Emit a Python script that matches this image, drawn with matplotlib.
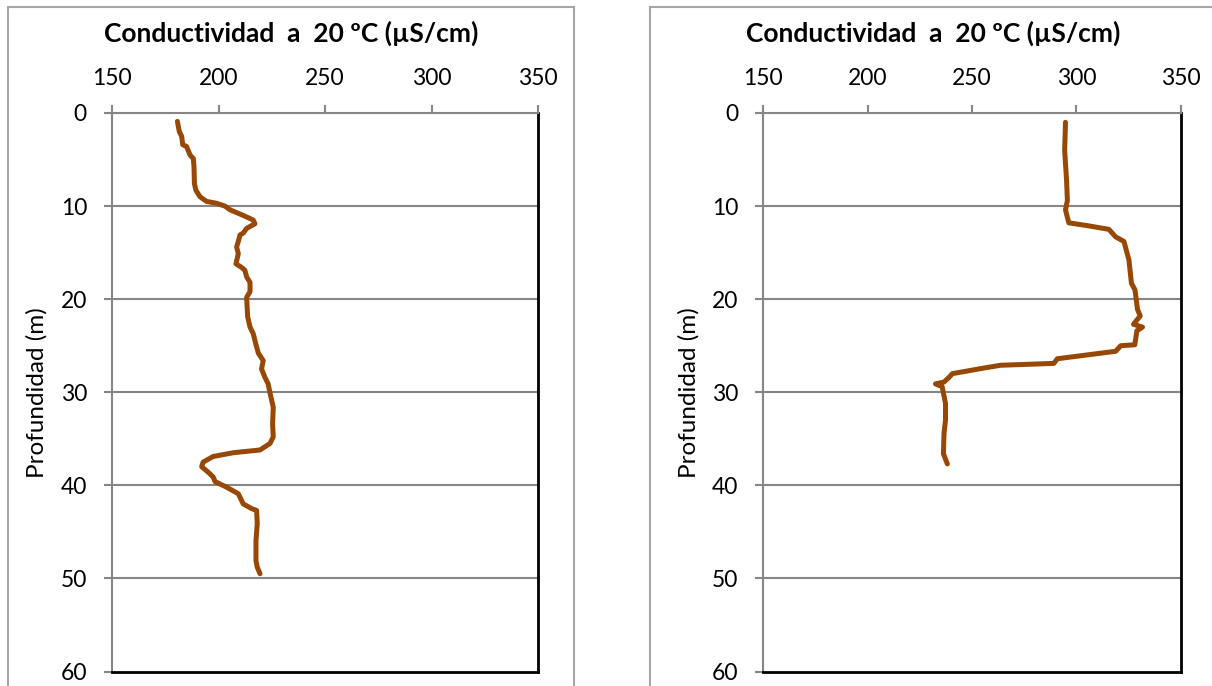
import matplotlib
matplotlib.use("Agg")
import matplotlib.pyplot as plt
from matplotlib.patches import Rectangle

plt.rcParams['font.family'] = ['Lato', 'DejaVu Sans']

# Perfil 1: conductividad (uS/cm) frente a profundidad (m)
prof_1 = [0.9, 2.0, 2.5, 3.4, 3.6, 4.5, 4.9, 5.8, 7.6, 8.3, 9.0, 9.5, 9.7, 10.0,
          10.4, 11.0, 11.5, 11.9, 12.4, 12.9, 13.1, 13.8, 14.4, 15.1, 16.2, 16.6,
          16.9, 17.6, 18.2, 19.2, 19.8, 21.9, 23.0, 23.7, 24.8, 25.8, 26.6, 27.5,
          28.4, 29.1, 30.1, 31.6, 33.4, 34.8, 35.5, 36.2, 36.5, 36.9, 37.5, 38.0,
          38.6, 39.1, 39.6, 40.2, 40.9, 42.0, 42.5, 42.7, 44.1, 45.9, 48.1, 48.8, 49.5]
cond_1 = [180.7, 181.6, 182.7, 183.2, 185.0, 186.6, 188.2, 188.5, 188.7, 189.4, 191.3,
          194.4, 199.1, 203.0, 205.4, 211.6, 216.3, 217.1, 213.2, 211.6, 210.1, 209.3,
          208.5, 209.3, 208.2, 210.9, 212.4, 213.2, 214.8, 214.8, 213.2, 213.7, 214.8,
          216.3, 217.5, 218.7, 221.0, 220.2, 221.8, 223.3, 224.2, 225.7, 225.4, 225.7,
          224.2, 219.5, 206.9, 197.5, 192.8, 192.1, 195.2, 197.5, 198.4, 203.8, 209.3,
          211.6, 215.6, 217.9, 218.2, 217.6, 217.6, 218.2, 219.5]

# Perfil 2
prof_2 = [1.0, 4.0, 7.2, 9.4, 10.4, 11.3, 11.8, 12.1, 12.5, 13.3, 13.8, 15.8, 18.3,
          19.0, 21.1, 21.8, 22.7, 23.0, 23.4, 24.9, 25.0, 25.6, 26.4, 26.9, 27.1,
          27.4, 28.0, 28.4, 28.9, 29.1, 29.4, 31.2, 33.0, 34.4, 36.6, 37.7]
cond_2 = [294.8, 294.4, 295.3, 295.7, 294.8, 295.8, 296.4, 305.2, 315.6, 318.8, 322.8,
          325.2, 326.4, 328.1, 329.3, 330.6, 327.4, 331.7, 329.0, 328.0, 321.3, 318.8,
          290.9, 289.2, 263.7, 255.7, 240.6, 239.0, 236.6, 232.5, 235.7, 237.3, 237.3,
          236.6, 236.3, 238.2]

x_ticks = [150, 200, 250, 300, 350]
y_ticks = [0, 10, 20, 30, 40, 50, 60]
titulo = 'Conductividad  a  20 ºC (µS/cm)'
etiqueta_y = 'Profundidad (m)'

W, H = 1212, 686
fig = plt.figure(figsize=(W / 100, H / 100), dpi=100)

gris = '#868686'
color_linea = '#974706'


def panel(left_px, right_px, frame_left, frame_right, prof, cond):
    # marco exterior del grafico
    fig.patches.append(Rectangle((frame_left / W, -0.1), (frame_right - frame_left) / W,
                                 1.1 - 7 / H, transform=fig.transFigure,
                                 fill=False, edgecolor='#A6A6A6', linewidth=1.5))
    top_px, bot_px = 113, 671.5
    ax = fig.add_axes([left_px / W, 1 - bot_px / H, (right_px - left_px) / W,
                       (bot_px - top_px) / H])
    ax.plot(cond, prof, color=color_linea, linewidth=3.6,
            solid_capstyle='round', solid_joinstyle='round', zorder=3)
    ax.set_xlim(150, 350)
    ax.set_ylim(60, 0)
    ax.set_xticks(x_ticks)
    ax.set_yticks(y_ticks)
    ax.xaxis.tick_top()
    ax.tick_params(axis='both', direction='out', length=6, width=1.5, color=gris,
                   labelsize=16.5, labelcolor='black')
    ax.tick_params(axis='x', pad=11)
    ax.tick_params(axis='y', pad=12)
    for y in y_ticks[1:-1]:
        ax.axhline(y, color=gris, linewidth=1.5, zorder=1)
    ax.spines['top'].set_color(gris)
    ax.spines['left'].set_color(gris)
    ax.spines['top'].set_linewidth(1.5)
    ax.spines['left'].set_linewidth(1.5)
    ax.spines['right'].set_color('black')
    ax.spines['bottom'].set_color('black')
    ax.spines['right'].set_linewidth(2)
    ax.spines['bottom'].set_linewidth(2)
    ax.set_ylabel(etiqueta_y, fontsize=17.5, labelpad=9)
    fig.text((frame_left + frame_right) / 2 / W, 1 - 33 / H, titulo, ha='center',
             va='center', fontsize=19, fontweight='bold')
    return ax


panel(112, 538, 8, 574, prof_1, cond_1)
panel(763.3, 1180.7, 650, 1216, prof_2, cond_2)

fig.savefig('out.png', dpi=100)
